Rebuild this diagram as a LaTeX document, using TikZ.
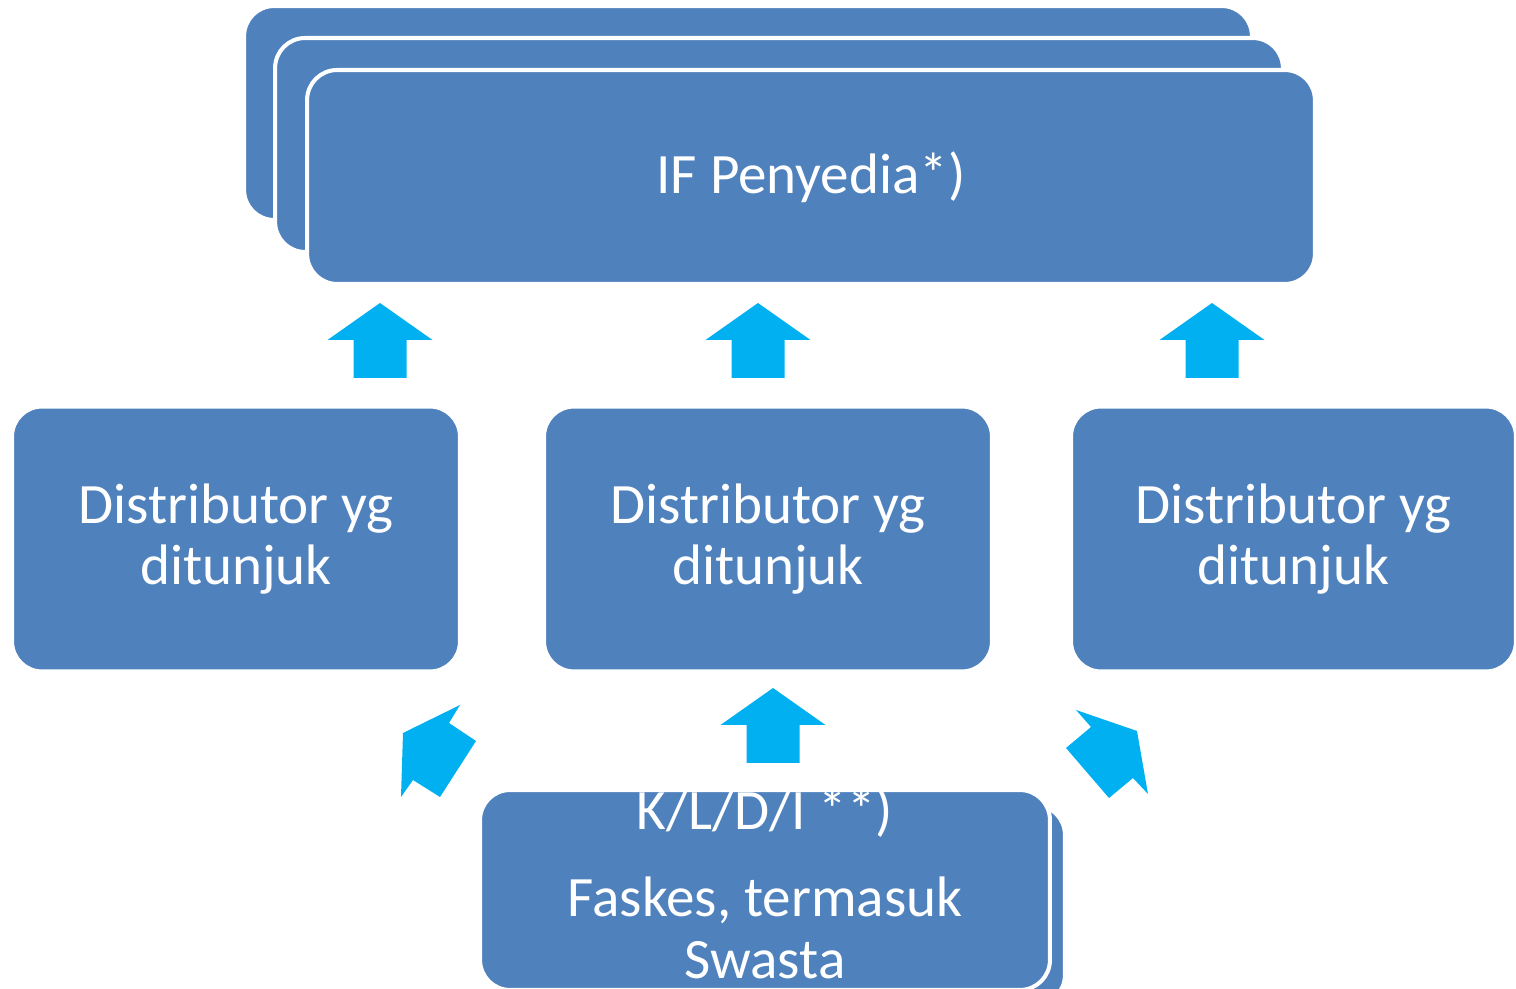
\documentclass[tikz,border=0pt]{standalone}
\usepackage{fontspec}
\setmainfont{Carlito}
\usepackage{xcolor}
\definecolor{boxblue}{HTML}{4F81BD}
\definecolor{arrowblue}{HTML}{00B0F0}
\tikzset{
  box/.style={
    rectangle, fill=boxblue, draw=white, line width=2.3pt,
    rounded corners=0.6cm, inner sep=0pt,
  }
}

\begin{document}
\begin{tikzpicture}[
    x=0.02cm, y=-0.02cm,
    every node/.style={align=center, text=white, font=\fontsize{32.5}{35}\selectfont},
    upblock/.style={fill=arrowblue}
  ]
  \useasboundingbox (0,0) rectangle (1516,989);
  \clip (0,0) rectangle (1516,989);

  % Stack on top
  \node[box, minimum width=20.16cm, minimum height=4.28cm] (back) at (748,113) {};
  \node[box, minimum width=20.16cm, minimum height=4.28cm] (mid) at (779,145) {};
  \node[box, minimum width=20.16cm, minimum height=4.28cm] (ifp) at (811,177) {IF Penyedia*)};

  % Distributors in the middle
  \node[box, minimum width=8.96cm, minimum height=5.3cm] (dist1) at (236,539) {Distributor yg\\ditunjuk};
  \node[box, minimum width=8.96cm, minimum height=5.3cm] (dist2) at (768,539) {Distributor yg\\ditunjuk};
  \node[box, minimum width=8.9cm, minimum height=5.3cm] (dist3) at (1293.5,539) {Distributor yg\\ditunjuk};

  % Faskes at the bottom
  \node[box, minimum width=11.4cm, minimum height=4cm] (fasback) at (780,905) {};
  \node[box, minimum width=11.4cm, minimum height=4cm] (fas) at (765,890) {};
  \node (fastext) at (765,883) {K/L/D/I **)\\[15pt]Faskes, termasuk\\Swasta};

  % Arrows
  \foreach \ax/\ay in {380/378, 758/378, 1212/378, 773/763}
    \fill[upblock] (\ax-26.5,\ay) -- (\ax+26.5,\ay) -- (\ax+26.5,\ay-38) -- (\ax+52.5,\ay-38)
      -- (\ax,\ay-75) -- (\ax-52.5,\ay-38) -- (\ax-26.5,\ay-38) -- cycle;
  \fill[upblock] (460,705) -- (449,723) -- (476,741) -- (440,797) -- (413,780) -- (401,797) -- (403,733) -- cycle;
  \fill[upblock] (1076,710) -- (1091,727) -- (1066,748) -- (1109,798) -- (1133,778) -- (1148,794) -- (1137,731) -- cycle;
\end{tikzpicture}
\end{document}
